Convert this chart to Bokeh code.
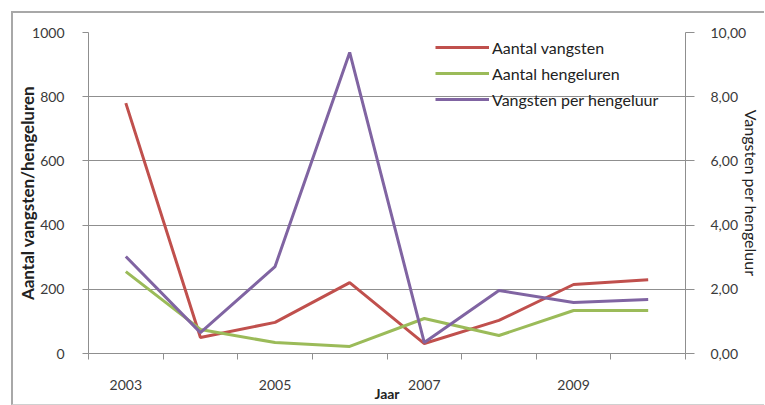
from bokeh.plotting import figure
from bokeh.models import LinearAxis, Range1d, FixedTicker, Legend, LegendItem
from bokeh.embed import file_html
from bokeh.resources import INLINE

# ---- data ----
years = [2003, 2004, 2005, 2006, 2007, 2008, 2009, 2010]
aantal_vangsten = [780, 50, 97, 221, 31, 103, 215, 230]
aantal_hengeluren = [255, 75, 34, 22, 109, 56, 134, 134]
vangsten_per_hengeluur = [3.02, 0.65, 2.71, 9.38, 0.34, 1.96, 1.59, 1.68]
year_labels = [2003, 2005, 2007, 2009]
left_ticks = [0, 200, 400, 600, 800, 1000]
right_ticks = [0, 2, 4, 6, 8, 10]
right_tick_labels = ["0,00", "2,00", "4,00", "6,00", "8,00", "10,00"]

FONT = "Lato"
GRID = "#8f8f8f"
TXT = "#3a3a3a"
RED = "#C0504D"
GREEN = "#9BBB59"
PURPLE = "#8064A2"

p = figure(frame_width=597, frame_height=321,
           x_range=Range1d(2002.5, 2010.5), y_range=Range1d(0, 1000),
           output_backend="svg", toolbar_location=None,
           min_border_left=75, min_border_right=78,
           min_border_top=19, min_border_bottom=50)
p.margin = (11, 0, 0, 11)
p.styles = {"border-left": "2px solid #a8a8a8", "border-top": "2px solid #a8a8a8",
            "border-bottom": "1px solid #d0d0d0"}
p.outline_line_color = None
p.background_fill_color = "white"
p.border_fill_color = "white"
p.extra_y_ranges = {"rate": Range1d(0, 10)}

# x axis
xa = p.xaxis[0]
xa.ticker = FixedTicker(ticks=year_labels,
                        minor_ticks=[y - 0.5 for y in years] + [years[-1] + 0.5])
xa.major_tick_out = 0
xa.major_tick_in = 0
xa.minor_tick_out = 6
xa.minor_tick_in = 0
xa.minor_tick_line_color = GRID
xa.axis_line_color = GRID
xa.major_label_standoff = 20
xa.major_label_text_font = FONT
xa.major_label_text_font_size = "14px"
xa.major_label_text_color = TXT
xa.axis_label = "Jaar"
xa.axis_label_text_font = FONT
xa.axis_label_text_font_size = "14px"
xa.axis_label_text_font_style = "bold"
xa.axis_label_text_color = "#222222"
xa.axis_label_standoff = -8

# left axis
ya = p.yaxis[0]
ya.ticker = FixedTicker(ticks=left_ticks)
ya.major_tick_out = 6
ya.major_tick_in = 0
ya.major_tick_line_color = GRID
ya.minor_tick_line_color = None
ya.axis_line_color = GRID
ya.major_label_standoff = 18
ya.major_label_text_font = FONT
ya.major_label_text_font_size = "14px"
ya.major_label_text_color = TXT
ya.axis_label = "Aantal vangsten/hengeluren"
ya.axis_label_text_font = FONT
ya.axis_label_text_font_size = "17px"
ya.axis_label_text_font_style = "bold"
ya.axis_label_text_color = "#222222"
ya.axis_label_standoff = -9

# right axis
ra = LinearAxis(y_range_name="rate", ticker=FixedTicker(ticks=right_ticks),
                major_label_overrides=dict(zip(right_ticks, right_tick_labels)))
ra.major_tick_out = 9
ra.major_tick_in = 0
ra.major_tick_line_color = GRID
ra.minor_tick_line_color = None
ra.axis_line_color = GRID
ra.major_label_standoff = 16
ra.major_label_text_font = FONT
ra.major_label_text_font_size = "14px"
ra.major_label_text_color = TXT
ra.major_label_text_align = "left"
ra.axis_label = "Vangsten per hengeluur"
ra.axis_label_text_font = FONT
ra.axis_label_text_font_size = "16px"
ra.axis_label_text_font_style = "normal"
ra.axis_label_text_color = "#222222"
ra.axis_label_standoff = -7
p.add_layout(ra, "right")

p.xgrid.grid_line_color = None
p.ygrid.ticker = FixedTicker(ticks=left_ticks)
p.ygrid.grid_line_color = GRID
p.ygrid.grid_line_width = 1

r1 = p.line(years, aantal_vangsten, line_color=RED, line_width=3)
r2 = p.line(years, aantal_hengeluren, line_color=GREEN, line_width=3)
r3 = p.line(years, vangsten_per_hengeluur, line_color=PURPLE, line_width=3,
            y_range_name="rate")

legend = Legend(items=[LegendItem(label="Aantal vangsten", renderers=[r1]),
                       LegendItem(label="Aantal hengeluren", renderers=[r2]),
                       LegendItem(label="Vangsten per hengeluur", renderers=[r3])],
                location=(347, 244))
legend.glyph_width = 54
legend.glyph_height = 20
legend.label_height = 20
legend.spacing = 6
legend.padding = 5
legend.margin = 0
legend.label_standoff = 3
legend.label_text_font = FONT
legend.label_text_font_size = "16px"
legend.label_text_color = "#222222"
legend.background_fill_alpha = 0
legend.border_line_color = None
p.add_layout(legend)

open("out.html", "w").write(file_html(p, INLINE))
